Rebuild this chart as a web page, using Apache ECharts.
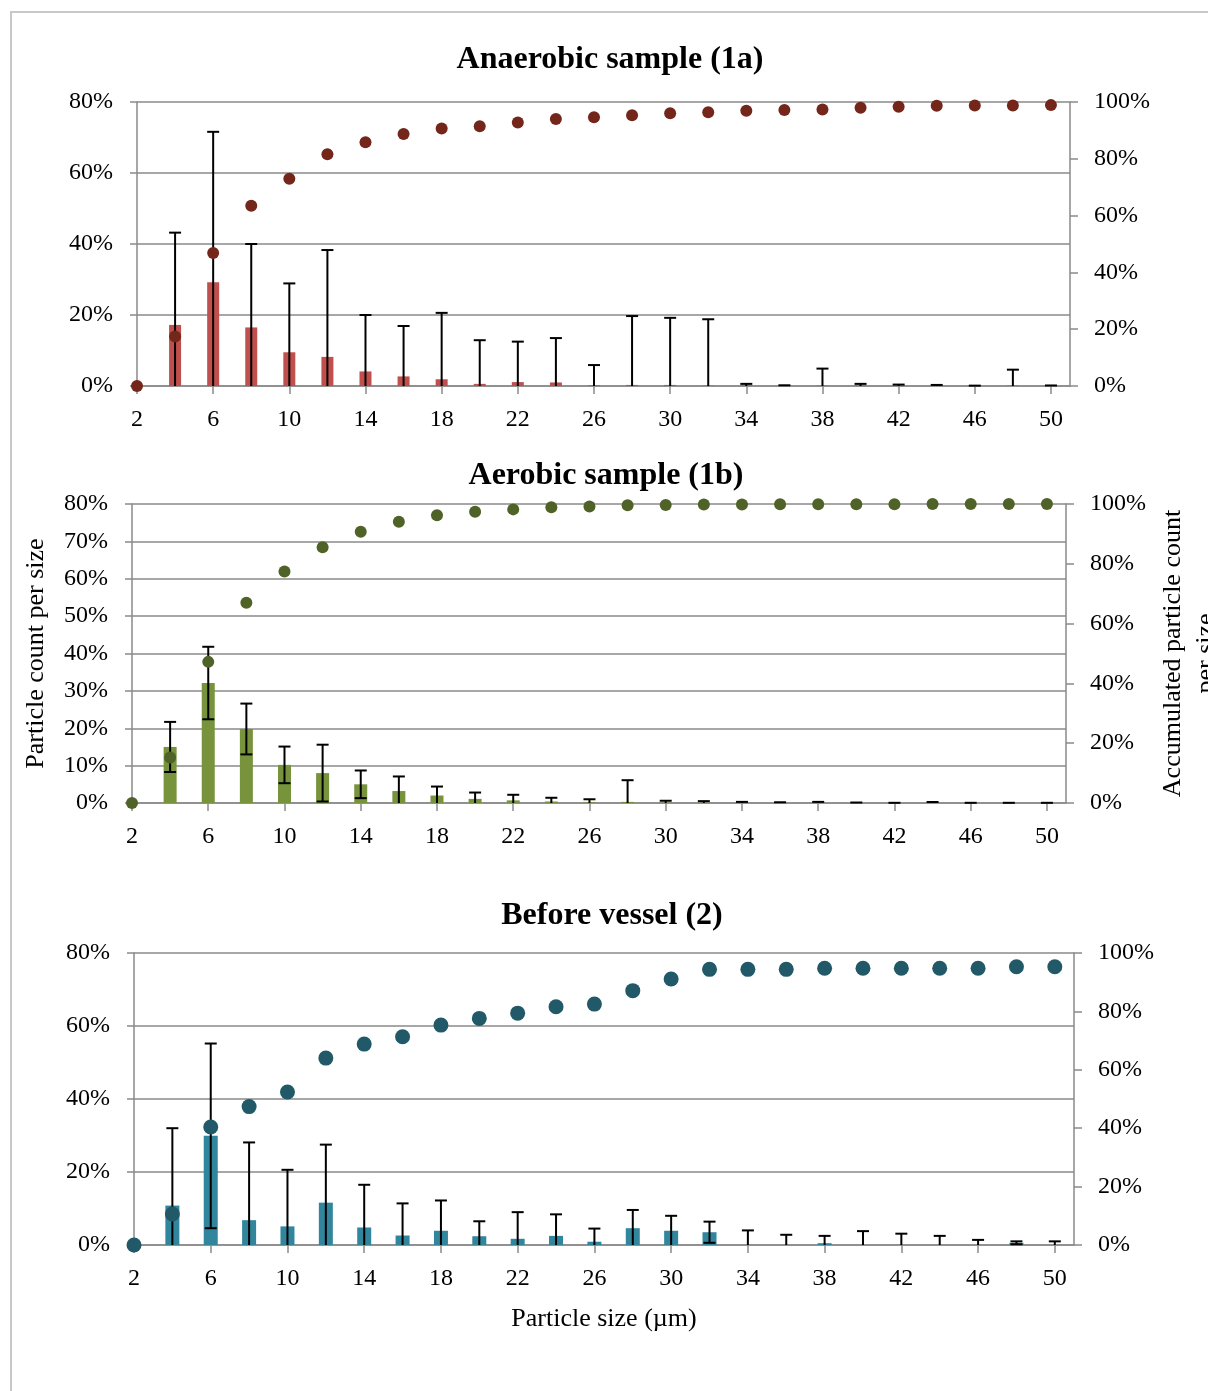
<!DOCTYPE html>
<html>
<head>
<meta charset="utf-8">
<script src="https://cdn.jsdelivr.net/npm/echarts@6/dist/echarts.min.js"></script>
<style>
  html, body { margin: 0; padding: 0; background: #fff; }
  #chart { width: 1208px; height: 1391px; }
</style>
</head>
<body>
<div id="chart"></div>
<script>
const chart = echarts.init(document.getElementById("chart"));

const FONT = "'Liberation Serif', 'Times New Roman', serif";

// particle sizes (um)
const sizes = [2, 4, 6, 8, 10, 12, 14, 16, 18, 20, 22, 24, 26, 28, 30, 32, 34, 36, 38, 40, 42, 44, 46, 48, 50];
const sizeTicks = [2, 6, 10, 14, 18, 22, 26, 30, 34, 38, 42, 46, 50];

// anaerobic sample (1a): share per size %, std dev %, accumulated %
const anaBar = [0, 17.2, 29.2, 16.5, 9.5, 8.2, 4.1, 2.7, 1.9, 0.6, 1.1, 1.0, 0.2, 0.3, 0.3, 0.1, 0.2, 0.1, 0.1, 0.2, 0.1, 0.1, 0, 0.1, 0.05];
const anaSd = [0, 26.0, 42.4, 23.5, 19.4, 30.1, 15.9, 14.2, 18.7, 12.3, 11.4, 12.5, 5.7, 19.4, 18.9, 18.7, 0.4, 0.1, 4.8, 0.4, 0.3, 0.2, 0.1, 4.5, 0.1];
const anaCum = [0, 17.4, 46.8, 63.5, 73.0, 81.6, 85.8, 88.7, 90.7, 91.5, 92.8, 94.0, 94.6, 95.3, 96.0, 96.4, 96.9, 97.2, 97.4, 98.0, 98.3, 98.7, 98.8, 98.8, 98.9];

// aerobic sample (1b)
const aerBar = [0, 15.0, 32.1, 19.8, 10.2, 8.0, 5.0, 3.2, 2.0, 1.1, 0.7, 0.4, 0.2, 0.3, 0.1, 0.1, 0.05, 0.05, 0.05, 0.05, 0.02, 0.02, 0.02, 0.02, 0.02];
const aerSd = [0, 6.7, 9.7, 6.8, 4.9, 7.6, 3.7, 3.9, 2.4, 1.7, 1.5, 1.0, 0.8, 5.8, 0.5, 0.4, 0.25, 0.15, 0.25, 0.08, 0.03, 0.25, 0.03, 0.03, 0.03];
const aerCum = [0, 15.2, 47.2, 67.0, 77.4, 85.5, 90.7, 94.1, 96.2, 97.4, 98.2, 98.9, 99.2, 99.6, 99.7, 99.8, 99.8, 99.9, 99.9, 99.9, 99.9, 100, 100, 100, 100];

// before vessel (2)
const vesBar = [0, 10.8, 29.9, 6.8, 5.1, 11.6, 4.8, 2.6, 3.9, 2.4, 1.7, 2.5, 0.9, 4.6, 3.9, 3.5, 0, 0, 0.5, 0, 0, 0, 0, 0.6, 0];
const vesSd = [0, 21.2, 25.3, 21.3, 15.5, 15.9, 11.7, 8.8, 8.3, 4.1, 7.3, 5.9, 3.6, 5.0, 4.1, 2.9, 4.0, 2.8, 2.0, 3.8, 3.1, 2.5, 1.4, 0.4, 1.0];
const vesCum = [0, 10.6, 40.4, 47.4, 52.4, 64.0, 68.8, 71.3, 75.3, 77.6, 79.4, 81.6, 82.5, 87.1, 91.1, 94.4, 94.4, 94.4, 94.8, 94.8, 94.8, 94.8, 94.8, 95.3, 95.3];

const AXIS_GRAY = "#8a8a8a";

// --------------------------
// helpers
// --------------------------

function xAxisFor(gi, extra) {
  return Object.assign({
    type: "value",
    gridIndex: gi,
    min: 2,
    max: 51,
    axisLine: { show: true, lineStyle: { color: AXIS_GRAY, width: 1.5 } },
    axisTick: { show: true, customValues: sizeTicks, length: 8, lineStyle: { color: AXIS_GRAY, width: 1.5 } },
    axisLabel: { customValues: sizeTicks, margin: 22, color: "#000", fontSize: 24, fontFamily: FONT },
    splitLine: { show: false }
  }, extra || {});
}

function leftAxisFor(gi, interval, extra) {
  return Object.assign({
    type: "value",
    gridIndex: gi,
    position: "left",
    min: 0,
    max: 80,
    interval: interval,
    axisLine: { show: true, lineStyle: { color: AXIS_GRAY, width: 1.5 } },
    axisTick: { show: true, length: 7, lineStyle: { color: AXIS_GRAY, width: 1.5 } },
    axisLabel: { formatter: "{value}%", margin: 24, color: "#000", fontSize: 24, fontFamily: FONT },
    splitLine: { show: true, lineStyle: { color: AXIS_GRAY, width: 1.5 } }
  }, extra || {});
}

function rightAxisFor(gi, extra) {
  return Object.assign({
    type: "value",
    gridIndex: gi,
    position: "right",
    min: 0,
    max: 100,
    interval: 20,
    axisLine: { show: true, lineStyle: { color: AXIS_GRAY, width: 1.5 } },
    axisTick: { show: true, length: 8, lineStyle: { color: AXIS_GRAY, width: 1.5 } },
    axisLabel: { formatter: "{value}%", margin: 24, color: "#000", fontSize: 24, fontFamily: FONT },
    splitLine: { show: false }
  }, extra || {});
}

function barSeries(gi, values, color, width) {
  return {
    type: "bar",
    xAxisIndex: gi,
    yAxisIndex: gi * 2,
    barWidth: width,
    itemStyle: { color: color },
    data: sizes.map((s, k) => [s, values[k]]),
    z: 2
  };
}

// std dev whiskers: line from max(mean - sd, 0) to mean + sd, caps where visible
function errorSeries(gi, values, sds) {
  return {
    type: "custom",
    xAxisIndex: gi,
    yAxisIndex: gi * 2,
    z: 3,
    renderItem: (params, api) => {
      const x = api.value(0);
      const m = api.value(1);
      const sd = api.value(2);
      if (!sd) return;
      const top = api.coord([x, m + sd]);
      const bot = api.coord([x, Math.max(m - sd, 0)]);
      const style = { stroke: "#000", lineWidth: 2 };
      const children = [
        { type: "line", shape: { x1: top[0], y1: top[1], x2: bot[0], y2: bot[1] }, style },
        { type: "line", shape: { x1: top[0] - 6, y1: top[1], x2: top[0] + 6, y2: top[1] }, style }
      ];
      if (m - sd > 0) {
        children.push({ type: "line", shape: { x1: bot[0] - 6, y1: bot[1], x2: bot[0] + 6, y2: bot[1] }, style });
      }
      return { type: "group", children };
    },
    data: sizes.map((s, k) => [s, values[k], sds[k]])
  };
}

function cumSeries(gi, values, color, size) {
  return {
    type: "scatter",
    xAxisIndex: gi,
    yAxisIndex: gi * 2 + 1,
    symbolSize: size,
    itemStyle: { color: color, opacity: 1 },
    data: sizes.map((s, k) => [s, values[k]]),
    z: 4
  };
}

const titleStyle = { color: "#000", fontSize: 32, fontWeight: "bold", fontFamily: FONT };
const nameStyle = { color: "#000", fontSize: 26, fontFamily: FONT, lineHeight: 33 };

chart.setOption({
  animation: false,
  backgroundColor: "#fff",

  title: [
    { text: "Anaerobic sample (1a)", left: 605, top: 39, textAlign: "center", textStyle: titleStyle },
    { text: "Aerobic sample (1b)", left: 601, top: 455, textAlign: "center", textStyle: titleStyle },
    { text: "Before vessel (2)", left: 607, top: 895, textAlign: "center", textStyle: titleStyle }
  ],

  graphic: [
    {
      type: "rect",
      shape: { x: 11, y: 12, width: 1300, height: 1400 },
      style: { fill: "none", stroke: "#c8c8c8", lineWidth: 2 },
      silent: true
    }
  ],

  grid: [
    { left: 137, width: 933, top: 102, height: 284, outerBoundsMode: "none" },
    { left: 132, width: 934, top: 504, height: 299, outerBoundsMode: "none" },
    { left: 134, width: 940, top: 953, height: 292, outerBoundsMode: "none" }
  ],

  xAxis: [
    xAxisFor(0),
    xAxisFor(1),
    xAxisFor(2, {
      name: "Particle size (µm)",
      nameLocation: "middle",
      nameGap: 58,
      nameTextStyle: nameStyle
    })
  ],

  yAxis: [
    leftAxisFor(0, 20),
    rightAxisFor(0),
    leftAxisFor(1, 10, {
      name: "Particle count per size",
      nameLocation: "middle",
      nameRotate: 90,
      nameGap: 74,
      nameTextStyle: nameStyle
    }),
    rightAxisFor(1, {
      name: "Accumulated particle count\nper size",
      nameLocation: "middle",
      nameRotate: 90,
      nameGap: 88,
      nameTextStyle: nameStyle
    }),
    leftAxisFor(2, 20),
    rightAxisFor(2)
  ],

  series: [
    barSeries(0, anaBar, "#c0504d", 12),
    errorSeries(0, anaBar, anaSd),
    cumSeries(0, anaCum, "#74261a", 12),

    barSeries(1, aerBar, "#77933c", 13),
    errorSeries(1, aerBar, aerSd),
    cumSeries(1, aerCum, "#4f6228", 12),

    barSeries(2, vesBar, "#31859c", 14),
    errorSeries(2, vesBar, vesSd),
    cumSeries(2, vesCum, "#215968", 15)
  ]
});
</script>
</body>
</html>
